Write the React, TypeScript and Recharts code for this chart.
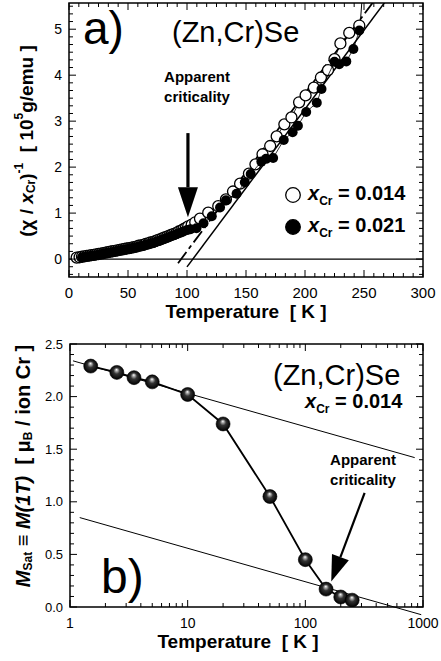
import React from 'react';
import { ScatterChart, Scatter, XAxis, YAxis, ReferenceLine, ReferenceArea, Legend } from 'recharts';

const FONT = '"Liberation Sans", Arial, Helvetica, sans-serif';

// ---- panel a) : inverse susceptibility vs T ----
const tempOpen = [
  6.5, 9, 11, 13, 15, 17, 19, 21, 23, 25, 27, 29, 31, 33, 35, 37, 39, 41, 43, 45, 47, 49, 51, 53, 55, 57, 59,
  61, 63, 65, 67, 69, 71, 73, 75, 77, 79, 81, 83, 85, 87, 89, 91, 93, 95, 97, 99, 101, 104, 107, 111, 118,
  126.5, 133, 139, 145, 152.5, 158, 164, 170.5, 176, 182.5, 188.5, 195, 200.5, 207.5, 213.5, 219.5, 225, 230,
  237.5, 246,
];
const chiOpen = [
  0.03, 0.04, 0.05, 0.06, 0.07, 0.075, 0.085, 0.09, 0.1, 0.11, 0.12, 0.13, 0.14, 0.15, 0.16, 0.17, 0.18, 0.19,
  0.2, 0.21, 0.22, 0.23, 0.24, 0.25, 0.26, 0.27, 0.29, 0.3, 0.31, 0.33, 0.34, 0.36, 0.37, 0.39, 0.41, 0.43,
  0.45, 0.47, 0.49, 0.51, 0.53, 0.55, 0.57, 0.6, 0.62, 0.65, 0.68, 0.71, 0.75, 0.8, 0.88, 1.01, 1.15, 1.3,
  1.47, 1.64, 1.86, 2.06, 2.28, 2.46, 2.67, 2.93, 3.08, 3.41, 3.56, 3.73, 3.95, 4.11, 4.35, 4.69, 4.92, 5.08,
];
const tempFilled = [
  11, 13, 15, 17, 19, 21, 23, 25, 27, 29, 31, 33, 35, 37, 39, 41, 43, 45, 47, 49, 51, 53, 55, 57, 59, 61, 63,
  65, 67, 69, 71, 73, 75, 77, 79, 81, 83, 85, 87, 89, 91, 93, 95, 97, 100, 103, 108, 114, 121, 128, 133, 142,
  149, 154, 163, 167, 173, 182, 189.5, 194, 201, 210, 214, 225, 229, 235, 241, 246,
];
const chiFilled = [
  0.035, 0.045, 0.055, 0.06, 0.07, 0.075, 0.085, 0.095, 0.105, 0.115, 0.125, 0.135, 0.145, 0.155, 0.165,
  0.175, 0.185, 0.195, 0.205, 0.215, 0.225, 0.235, 0.245, 0.255, 0.27, 0.28, 0.29, 0.31, 0.32, 0.335, 0.35,
  0.365, 0.385, 0.4, 0.42, 0.44, 0.46, 0.48, 0.5, 0.52, 0.54, 0.56, 0.58, 0.6, 0.63, 0.65, 0.67, 0.78, 0.93,
  1.12, 1.28, 1.42, 1.67, 1.85, 2.12, 2.18, 2.2, 2.59, 2.76, 2.9, 3.2, 3.4, 3.7, 4.29, 4.24, 4.3, 4.57, 4.97,
];
const fitSolid = [{ x: 100, y: -0.17 }, { x: 271, y: 5.7 }];
const fitDashed = [{ x: 92.4, y: -0.09 }, { x: 261, y: 5.7 }];
const sweepLine = [{ x: 246.6, y: 5.05 }, { x: 248.5, y: 5.7 }];
const arrowA = [{ x: 100.8, y: 2.74 }, { x: 100.8, y: 0.91 }];
const legendA = ['0.014', '0.021'];

// ---- panel b) : saturation magnetisation vs T ----
const tempSat = [1.5, 2.5, 3.5, 5, 10, 20, 50, 100, 150, 200, 250];
const mSat = [2.29, 2.23, 2.18, 2.14, 2.02, 1.74, 1.05, 0.45, 0.17, 0.095, 0.065];
const fitHigh = [{ x: 1.06, y: 2.34 }, { x: 850, y: 1.42 }];
const fitLow = [{ x: 1.21, y: 0.85 }, { x: 966, y: -0.073 }];
const arrowB = [{ x: 319, y: 1.085 }, { x: 166, y: 0.243 }];

// axes
const domA_X = [0, 300];
const domA_Y = [-0.39, 5.57];
const majorA_X = [0, 50, 100, 150, 200, 250, 300];
const majorA_Y = [0, 1, 2, 3, 4, 5];
const domB_X = [1, 1000];
const domB_Y = [0, 2.5];
const majorB_X = [1, 10, 100, 1000];
const majorB_Y = [0, 0.5, 1, 1.5, 2, 2.5];

const openData = tempOpen.map((t, i) => ({ t, v: chiOpen[i] }));
const filledData = tempFilled.map((t, i) => ({ t, v: chiFilled[i] }));
const satData = tempSat.map((t, i) => ({ t, v: mSat[i] }));

const linTicks = (majors: number[], n: number, dom: number[]) => {
  const step = (majors[1] - majors[0]) / n;
  const out: number[] = [];
  for (let k = -2 * n; k <= (majors.length + 1) * n; k++) {
    const v = +(majors[0] + k * step).toFixed(6);
    if (v >= dom[0] - 1e-9 && v <= dom[1] + 1e-9) out.push(v);
  }
  return out;
};
const logTicks = () => {
  const out: number[] = [];
  [1, 10, 100].forEach((d) => {
    for (let k = 1; k < 10; k++) out.push(d * k);
  });
  out.push(1000);
  return out;
};

const isMajor = (majors: number[], v: number) => majors.some((m) => Math.abs(m - v) < 1e-6);

const makeXTick = (majors: number[], ph: number, fs: number, fmt: (v: number) => string) => (p: any) => {
  const { x, y, payload } = p;
  const major = isMajor(majors, payload.value);
  const len = major ? 7 : 4;
  return (
    <g>
      <line x1={x} x2={x} y1={y} y2={y - len} stroke="#000" />
      <line x1={x} x2={x} y1={y - ph} y2={y - ph + len} stroke="#000" />
      {major && (
        <text x={x} y={y + 21} textAnchor="middle" fontSize={fs} fontFamily={FONT} fill="#000">
          {fmt(payload.value)}
        </text>
      )}
    </g>
  );
};

const makeYTick = (majors: number[], pw: number, fs: number, fmt: (v: number) => string) => (p: any) => {
  const { x, y, payload } = p;
  const major = isMajor(majors, payload.value);
  const len = major ? 7 : 4;
  return (
    <g>
      <line x1={x} x2={x + len} y1={y} y2={y} stroke="#000" />
      <line x1={x + pw} x2={x + pw - len} y1={y} y2={y} stroke="#000" />
      {major && (
        <text x={x - 7} y={y + fs * 0.36} textAnchor="end" fontSize={fs} fontFamily={FONT} fill="#000">
          {fmt(payload.value)}
        </text>
      )}
    </g>
  );
};

const arrowShape = (w: number, headL: number, headW: number) => (p: any) => {
  const { x1, y1, x2, y2 } = p;
  if ([x1, y1, x2, y2].some((v) => typeof v !== 'number' || isNaN(v))) return <g />;
  const len = Math.hypot(x2 - x1, y2 - y1);
  const ux = (x2 - x1) / len;
  const uy = (y2 - y1) / len;
  const bx = x2 - ux * headL;
  const by = y2 - uy * headL;
  const nx = -uy;
  const ny = ux;
  return (
    <g>
      <line x1={x1} y1={y1} x2={bx} y2={by} stroke="#000" strokeWidth={w} />
      <polygon
        points={`${x2},${y2} ${bx + nx * headW},${by + ny * headW} ${bx - nx * headW},${by - ny * headW}`}
        fill="#000"
      />
    </g>
  );
};

const openDot = (p: any) => <circle cx={p.cx} cy={p.cy} r={5.5} fill="#fff" stroke="#000" strokeWidth={1.3} />;
const filledDot = (p: any) => <circle cx={p.cx} cy={p.cy} r={5} fill="#000" />;
const sphereDot = (p: any) => <circle cx={p.cx} cy={p.cy} r={7} fill="url(#sphere)" stroke="#000" strokeWidth={0.6} />;

// axis boxes are 1px wide/high, margins hold the rest
const A = { w: 441, h: 330, m: { top: 3, right: 18, bottom: 52, left: 68 } };
const B = { w: 441, h: 331, m: { top: 14, right: 18, bottom: 53, left: 69 } };
const pwA = A.w - A.m.left - A.m.right - 1;
const phA = A.h - A.m.top - A.m.bottom - 1;
const pwB = B.w - B.m.left - B.m.right - 1;
const phB = B.h - B.m.top - B.m.bottom - 1;

const LegendA = () => (
  <div style={{ fontFamily: FONT, fontWeight: 'bold', fontSize: 20 }}>
    {legendA.map((val, i) => (
      <div key={val} style={{ display: 'flex', alignItems: 'center', height: 32 }}>
        <svg width={18} height={18}>
          <circle cx={9} cy={9} r={7.3} fill={i === 0 ? '#fff' : '#000'} stroke="#000" strokeWidth={1.3} />
        </svg>
        <span style={{ marginLeft: 6, whiteSpace: 'nowrap' }}>
          <i>x</i>
          <sub style={{ fontSize: 12 }}>Cr</sub> = {val}
        </span>
      </div>
    ))}
  </div>
);

export default function App() {
  return (
    <div style={{ position: 'absolute', left: 0, top: 0, width: 441, height: 661, background: '#fff' }}>
      <svg width={0} height={0} style={{ position: 'absolute' }}>
        <defs>
          <radialGradient id="sphere" cx="0.5" cy="0.5" r="0.5" fx="0.48" fy="0.3">
            <stop offset="0" stopColor="#ffffff" />
            <stop offset="0.16" stopColor="#b0b0b0" />
            <stop offset="0.45" stopColor="#333" />
            <stop offset="1" stopColor="#000" />
          </radialGradient>
        </defs>
      </svg>

      <ScatterChart width={A.w} height={A.h} margin={A.m}>
        <XAxis
          type="number"
          dataKey="t"
          domain={domA_X}
          allowDataOverflow
          ticks={linTicks(majorA_X, 6, domA_X)}
          interval={0}
          height={1}
          tickSize={0}
          tickMargin={0}
          axisLine={false}
          tickLine={false}
          tick={makeXTick(majorA_X, phA, 15, (v) => String(v))}
        />
        <YAxis
          type="number"
          dataKey="v"
          domain={domA_Y}
          allowDataOverflow
          ticks={linTicks(majorA_Y, 6, domA_Y)}
          interval={0}
          width={1}
          tickSize={0}
          tickMargin={0}
          axisLine={false}
          tickLine={false}
          tick={makeYTick(majorA_Y, pwA, 14, (v) => String(v))}
        />
        <ReferenceArea x1={domA_X[0]} x2={domA_X[1]} y1={domA_Y[0]} y2={domA_Y[1]} fill="none" stroke="#000" strokeWidth={1.5} />
        <ReferenceLine y={0} stroke="#000" strokeWidth={1.2} />
        <ReferenceLine segment={fitSolid} stroke="#000" strokeWidth={1.5} ifOverflow="hidden" />
        <ReferenceLine segment={fitDashed} stroke="#000" strokeWidth={1.8} strokeDasharray="14 4 4 4" ifOverflow="hidden" />
        <ReferenceLine segment={sweepLine} stroke="#000" strokeWidth={1} ifOverflow="hidden" />
        <Scatter
          name="0.014"
          data={openData}
          shape={openDot}
          line={{ stroke: '#000', strokeWidth: 0.8 }}
          isAnimationActive={false}
        />
        <Scatter
          name="0.021"
          data={filledData}
          shape={filledDot}
          line={{ stroke: '#000', strokeWidth: 0.8 }}
          isAnimationActive={false}
        />
        <ReferenceLine segment={arrowA} ifOverflow="visible" shape={arrowShape(3.2, 30, 10)} />
        <Legend
          layout="vertical"
          align="center"
          verticalAlign="middle"
          wrapperStyle={{ left: 284, top: 179, width: 150, height: 64 }}
          content={() => <LegendA />}
        />
      </ScatterChart>

      <ScatterChart width={B.w} height={B.h} margin={B.m}>
        <XAxis
          type="number"
          dataKey="t"
          scale="log"
          domain={domB_X}
          allowDataOverflow
          ticks={logTicks()}
          interval={0}
          height={1}
          tickSize={0}
          tickMargin={0}
          axisLine={false}
          tickLine={false}
          tick={makeXTick(majorB_X, phB, 14, (v) => String(v))}
        />
        <YAxis
          type="number"
          dataKey="v"
          domain={domB_Y}
          allowDataOverflow
          ticks={linTicks(majorB_Y, 5, domB_Y)}
          interval={0}
          width={1}
          tickSize={0}
          tickMargin={0}
          axisLine={false}
          tickLine={false}
          tick={makeYTick(majorB_Y, pwB, 13, (v) => v.toFixed(1))}
        />
        <ReferenceArea x1={domB_X[0]} x2={domB_X[1]} y1={domB_Y[0]} y2={domB_Y[1]} fill="none" stroke="#000" strokeWidth={1.5} />
        <ReferenceLine segment={fitHigh} stroke="#000" strokeWidth={1} ifOverflow="visible" />
        <ReferenceLine segment={fitLow} stroke="#000" strokeWidth={1} ifOverflow="visible" />
        <Scatter
          name="M(1T)"
          data={satData}
          shape={sphereDot}
          line={{ stroke: '#000', strokeWidth: 1.8 }}
          isAnimationActive={false}
        />
        <ReferenceLine segment={arrowB} ifOverflow="visible" shape={arrowShape(2.2, 26, 9)} />
      </ScatterChart>

      <svg
        width={441}
        height={661}
        style={{ position: 'absolute', left: 0, top: 0, pointerEvents: 'none' }}
        fontFamily={FONT}
      >
        {/* panel a */}
        <text x={83} y={44} fontSize={46}>a)</text>
        <text x={172} y={42} fontSize={29}>(Zn,Cr)Se</text>
        <text x={197} y={82} fontSize={15} fontWeight="bold" textAnchor="middle">Apparent</text>
        <text x={197} y={102} fontSize={15} fontWeight="bold" textAnchor="middle">criticality</text>
        <text x={246} y={318} fontSize={19} fontWeight="bold" textAnchor="middle">
          Temperature{'\u00a0\u00a0'}[ K ]
        </text>
        <text
          x={28}
          y={141}
          transform="rotate(-90 28 141)"
          fontSize={19}
          fontWeight="bold"
          textAnchor="middle"
          dominantBaseline="middle"
        >
          (χ / <tspan fontStyle="italic">x</tspan>
          <tspan dy={4} fontSize={12}>Cr</tspan>
          <tspan dy={-4}>)</tspan>
          <tspan dy={-8} fontSize={12}>-1</tspan>
          <tspan dy={8}>{'\u00a0\u00a0'}[ 10</tspan>
          <tspan dy={-8} fontSize={12}>5</tspan>
          <tspan dy={8}>g/emu ]</tspan>
        </text>

        {/* panel b */}
        <text x={273} y={385} fontSize={29}>(Zn,Cr)Se</text>
        <text x={305} y={408} fontSize={20} fontWeight="bold">
          <tspan fontStyle="italic">x</tspan>
          <tspan dy={5} fontSize={12}>Cr</tspan>
          <tspan dy={-5}>{'\u00a0'}= 0.014</tspan>
        </text>
        <text x={363} y={465} fontSize={15} fontWeight="bold" textAnchor="middle">Apparent</text>
        <text x={363} y={485} fontSize={15} fontWeight="bold" textAnchor="middle">criticality</text>
        <text x={101} y={593} fontSize={48}>b)</text>
        <text x={238} y={648} fontSize={19} fontWeight="bold" textAnchor="middle">
          Temperature{'\u00a0\u00a0'}[ K ]
        </text>
        <text
          x={25}
          y={466}
          transform="rotate(-90 25 466)"
          fontSize={20}
          fontWeight="bold"
          textAnchor="middle"
          dominantBaseline="middle"
        >
          <tspan fontStyle="italic">M</tspan>
          <tspan dy={4} fontSize={12}>Sat</tspan>
          <tspan dy={-4}>{'\u00a0'}≡{'\u00a0'}</tspan>
          <tspan fontStyle="italic">M(1T)</tspan>
          <tspan>{'\u00a0\u00a0'}[ μ</tspan>
          <tspan dy={4} fontSize={12}>B</tspan>
          <tspan dy={-4}>{'\u00a0'}/ ion Cr ]</tspan>
        </text>
      </svg>
    </div>
  );
}
